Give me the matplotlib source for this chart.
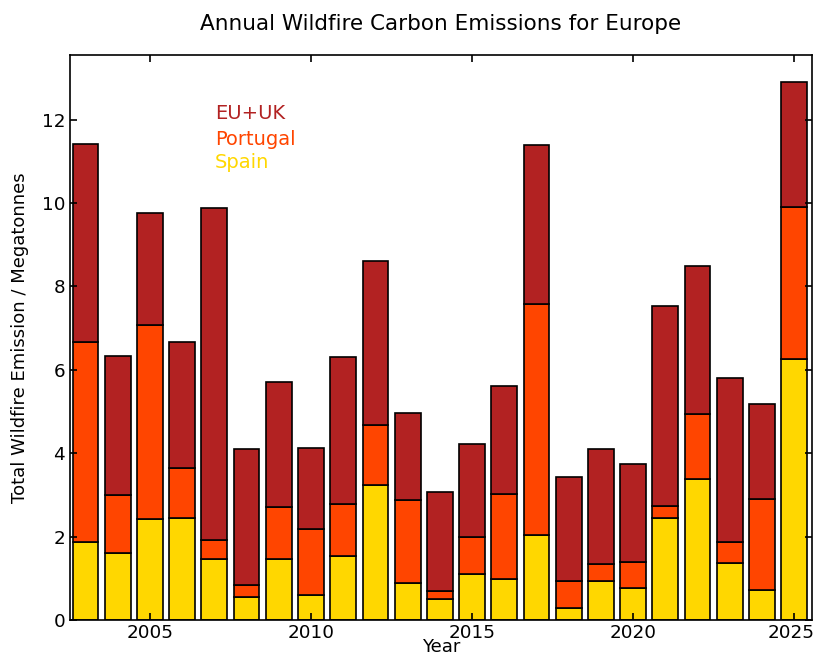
import matplotlib
matplotlib.use("Agg")
import matplotlib.pyplot as plt
import matplotlib.transforms as mtransforms
import numpy as np

years = list(range(2003, 2026))
spain = [1.86, 1.60, 2.42, 2.45, 1.47, 0.56, 1.47, 0.59, 1.54, 3.23, 0.88,
         0.50, 1.11, 0.99, 2.03, 0.28, 0.93, 0.76, 2.44, 3.39, 1.37, 0.72, 6.26]
portugal_top = [6.66, 3.00, 7.08, 3.65, 1.91, 0.84, 2.70, 2.17, 2.77, 4.68, 2.87,
                0.70, 1.99, 3.02, 7.57, 0.93, 1.34, 1.39, 2.74, 4.94, 1.86, 2.90, 9.91]
total = [11.42, 6.34, 9.77, 6.67, 9.87, 4.10, 5.70, 4.13, 6.30, 8.62, 4.96,
         3.06, 4.23, 5.61, 11.40, 3.44, 4.11, 3.74, 7.54, 8.48, 5.80, 5.19, 12.90]
series_names = ["EU+UK", "Portugal", "Spain"]
colors = {"EU+UK": "#B22222", "Portugal": "#FF4500", "Spain": "#FFD700"}

portugal = [p - s for p, s in zip(portugal_top, spain)]
euuk = [t - p for t, p in zip(total, portugal_top)]

plt.rcParams['font.family'] = ['DejaVu Sans']

fig = plt.figure(figsize=(8.16, 6.58), dpi=100)
ax = fig.add_axes([0.0858, 0.0578, 0.9092, 0.8586])

w = 0.8
ax.bar(years, spain, width=w, color=colors["Spain"], edgecolor="black", linewidth=1.2)
ax.bar(years, portugal, width=w, bottom=spain, color=colors["Portugal"], edgecolor="black", linewidth=1.2)
ax.bar(years, euuk, width=w, bottom=portugal_top, color=colors["EU+UK"], edgecolor="black", linewidth=1.2)

ax.set_xlim(2002.52, 2025.55)
ax.set_ylim(0, 13.55)
ax.set_xticks([2005, 2010, 2015, 2020, 2025])
ax.set_yticks([0, 2, 4, 6, 8, 10, 12])
ax.tick_params(direction="in", top=True, right=True, length=5, width=1.2, labelsize=13.2)
ax.tick_params(axis="x", pad=3)
for sp in ax.spines.values():
    sp.set_linewidth(1.2)

# keep the last x tick label inside the figure edge
fig.canvas.draw()
last = ax.get_xticklabels()[-1]
last.set_transform(last.get_transform() + mtransforms.ScaledTranslation(-3/100, 0, fig.dpi_scale_trans))

ax.set_title("Annual Wildfire Carbon Emissions for Europe", fontsize=15.5, pad=18)
ax.set_xlabel("Year", fontsize=13, labelpad=-3)
ax.set_ylabel("Total Wildfire Emission / Megatonnes", fontsize=13, labelpad=9)

ypos = [0.897, 0.851, 0.809]
for name, yy in zip(series_names, ypos):
    ax.text(0.195, yy, name, transform=ax.transAxes, color=colors[name],
            fontsize=14, va="center", ha="left")

fig.savefig("out.png", dpi=100)
